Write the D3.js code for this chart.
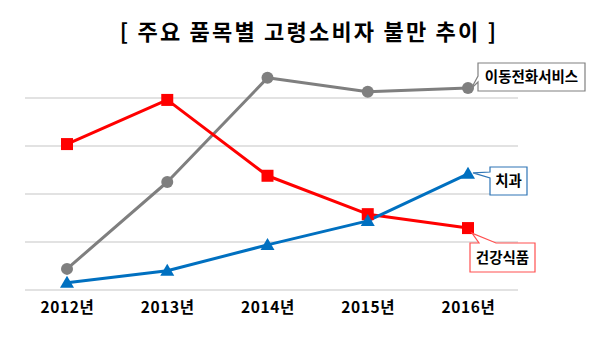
<!DOCTYPE html>
<html><head><meta charset="utf-8">
<script src="https://cdn.jsdelivr.net/npm/d3@7"></script>
<style>
html,body{margin:0;padding:0;background:#fff;}
svg{display:block;font-family:"Noto Sans CJK KR","Noto Sans",sans-serif;}
</style></head>
<body>
<svg id="chart" width="599" height="340"></svg>
<script>
const title = "[ 주요 품목별 고령소비자 불만 추이 ]";
const years = ["2012년","2013년","2014년","2015년","2016년"];
const gridTicks = [0,100,200,300,400];
const mobile = [44,225,442,413,421];   // 이동전화서비스
const dental = [15,40,94,144,242];     // 치과
const health = [304,396,238,158,129];  // 건강식품

const series = [
  {name:"이동전화서비스", values:mobile, color:"#7f7f7f", marker:"circle"},
  {name:"건강식품", values:health, color:"#ff0000", marker:"square"},
  {name:"치과", values:dental, color:"#0070c0", marker:"triangle"}
];

const svg = d3.select("#chart");
const x = d3.scalePoint().domain(years).range([67,468]);
const y = d3.scaleLinear().domain([0,500]).range([290,50]);

// title
svg.append("text").attr("x",309).attr("y",40).attr("text-anchor","middle")
  .attr("font-size",22).attr("font-weight","bold").attr("letter-spacing",2.2)
  .attr("fill","#000").text(title);

// gridlines
svg.append("g").selectAll("line").data(gridTicks).join("line")
  .attr("x1",25).attr("x2",518).attr("y1",d=>y(d)).attr("y2",d=>y(d))
  .attr("stroke","#d9d9d9").attr("stroke-width",1.5);

// x axis labels
const xAxis = d3.axisBottom(x).tickSize(0).tickPadding(0);
const gx = svg.append("g").attr("transform","translate(0,299)").call(xAxis);
gx.select(".domain").remove();
gx.selectAll("text").attr("font-size",15.5).attr("font-weight","bold").attr("fill","#000")
  .attr("letter-spacing",0.6)
  .attr("font-family","'Noto Sans CJK KR',sans-serif").attr("dy","0.9em");

// lines
const line = d3.line().x((d,i)=>x(years[i])).y(d=>y(d));
series.forEach(s=>{
  svg.append("path").datum(s.values).attr("d",line)
    .attr("fill","none").attr("stroke",s.color).attr("stroke-width",3).attr("stroke-linejoin","round");
});
// markers
series.forEach(s=>{
  const g = svg.append("g");
  s.values.forEach((v,i)=>{
    const cx=x(years[i]), cy=y(v);
    if(s.marker==="circle"){
      g.append("circle").attr("cx",cx).attr("cy",cy).attr("r",6).attr("fill",s.color);
    } else if(s.marker==="square"){
      g.append("rect").attr("x",cx-6).attr("y",cy-6).attr("width",12).attr("height",12).attr("fill",s.color);
    } else {
      g.append("path").attr("d",`M${cx},${cy-7}L${cx+7},${cy+5}L${cx-7},${cy+5}Z`).attr("fill",s.color);
    }
  });
});

// callouts
function callout(pts, stroke, text, tx, ty){
  svg.append("path").attr("d","M"+pts.map(p=>p.join(",")).join("L")+"Z")
    .attr("fill","#fff").attr("stroke",stroke).attr("stroke-width",1.2);
  svg.append("text").attr("x",tx).attr("y",ty).attr("text-anchor","middle")
    .attr("font-size",14.5).attr("font-weight","bold").attr("fill","#000").text(text);
}
const px = x("2016년");
// 이동전화서비스
callout([[478,63],[585,63],[585,91],[478,91],[478,82],[px+3,y(mobile[4])+1],[478,76]],"#808080","이동전화서비스",531.5,82);
// 치과
callout([[490,167],[527,167],[527,195],[490,195],[490,178],[px+5,y(dental[4])-1],[490,172]],"#2e75b6","치과",508.5,186);
// 건강식품
callout([[470,243],[479,243],[px+4,y(health[4])+5],[496,243],[535,243],[535,272],[470,272]],"#ff5050","건강식품",502.5,263);
</script>
</body></html>
